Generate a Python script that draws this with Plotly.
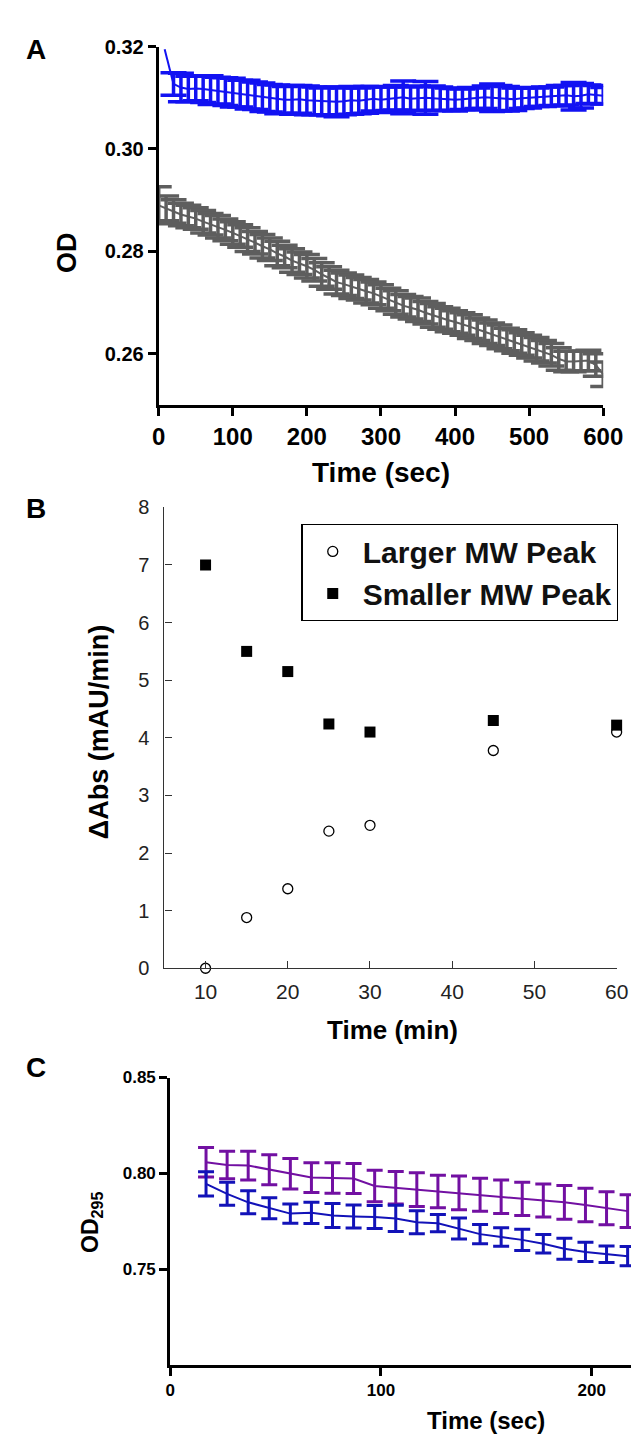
import plotly.graph_objects as go

# ---------------- Panel A data ----------------
a_time_grey = [0, 10, 20, 30, 40, 50, 60, 70, 80, 90, 100, 110, 120, 130, 140, 150, 160, 170, 180, 190,
               200, 210, 220, 230, 240, 250, 260, 270, 280, 290, 300, 310, 320, 330, 340, 350, 360, 370, 380, 390,
               400, 410, 420, 430, 440, 450, 460, 470, 480, 490, 500, 510, 520, 530, 540, 550, 560, 570, 580, 590, 600]
a_grey = [0.2890, 0.2884, 0.2878, 0.2872, 0.2868, 0.2864, 0.2858, 0.2853, 0.2848, 0.2842,
          0.2836, 0.2830, 0.2823, 0.2817, 0.2810, 0.2804, 0.2796, 0.2790, 0.2782, 0.2777,
          0.2771, 0.2764, 0.2755, 0.2748, 0.2740, 0.2736, 0.2731, 0.2727, 0.2722, 0.2718,
          0.2712, 0.2706, 0.2700, 0.2694, 0.2690, 0.2686, 0.2680, 0.2675, 0.2670, 0.2666,
          0.2662, 0.2658, 0.2653, 0.2648, 0.2643, 0.2638, 0.2633, 0.2628, 0.2624, 0.2619,
          0.2614, 0.2609, 0.2604, 0.2598, 0.2590, 0.2585, 0.2585, 0.2586, 0.2587, 0.2578, 0.2560]
a_grey_err = [0.0036, 0.0024, 0.0023, 0.0022, 0.0022, 0.0021, 0.0022, 0.0021, 0.0022, 0.0021,
              0.0022, 0.0022, 0.0023, 0.0022, 0.0023, 0.0022, 0.0024, 0.0022, 0.0023, 0.0022,
              0.0023, 0.0022, 0.0023, 0.0022, 0.0023, 0.0022, 0.0023, 0.0022, 0.0023, 0.0022,
              0.0023, 0.0022, 0.0023, 0.0022, 0.0022, 0.0023, 0.0022, 0.0023, 0.0022, 0.0023,
              0.0022, 0.0022, 0.0023, 0.0022, 0.0023, 0.0022, 0.0023, 0.0022, 0.0023, 0.0022,
              0.0022, 0.0023, 0.0022, 0.0022, 0.0022, 0.0020, 0.0020, 0.0019, 0.0020, 0.0022, 0.0024]

# first blue reading (t=8 s) is the initial spike, drawn without an error bar
a_time_blue = [8, 20, 30, 40, 50, 60, 70, 80, 90, 100, 110, 120, 130, 140, 150, 160, 170, 180, 190, 200,
               210, 220, 230, 240, 250, 260, 270, 280, 290, 300, 310, 320, 330, 340, 350, 360, 370, 380, 390, 400,
               410, 420, 430, 440, 450, 460, 470, 480, 490, 500, 510, 520, 530, 540, 550, 560, 570, 580, 590, 600]
a_blue = [0.3195, 0.3127, 0.3120, 0.3117, 0.3118, 0.3117, 0.3115, 0.3114, 0.3112, 0.3110,
          0.3108, 0.3106, 0.3104, 0.3101, 0.3099, 0.3097, 0.3096, 0.3096, 0.3097, 0.3095,
          0.3094, 0.3093, 0.3093, 0.3092, 0.3093, 0.3095, 0.3094, 0.3096, 0.3098, 0.3096,
          0.3098, 0.3100, 0.3101, 0.3098, 0.3099, 0.3100, 0.3099, 0.3098, 0.3097, 0.3096,
          0.3097, 0.3098, 0.3099, 0.3101, 0.3100, 0.3099, 0.3098, 0.3097, 0.3099, 0.3100,
          0.3101, 0.3102, 0.3103, 0.3104, 0.3105, 0.3103, 0.3104, 0.3107, 0.3106, 0.3104]
a_blue_err = [0.0, 0.0022, 0.0028, 0.0025, 0.0024, 0.0026, 0.0028, 0.0026, 0.0027, 0.0028,
              0.0026, 0.0028, 0.0027, 0.0028, 0.0027, 0.0028, 0.0026, 0.0028, 0.0027, 0.0028,
              0.0027, 0.0026, 0.0028, 0.0029, 0.0026, 0.0027, 0.0025, 0.0026, 0.0024, 0.0025,
              0.0023, 0.0024, 0.0032, 0.0023, 0.0024, 0.0032, 0.0024, 0.0023, 0.0022, 0.0022,
              0.0020, 0.0022, 0.0020, 0.0022, 0.0027, 0.0025, 0.0024, 0.0022, 0.0020, 0.0020,
              0.0018, 0.0019, 0.0018, 0.0020, 0.0019, 0.0027, 0.0024, 0.0018, 0.0018, 0.0016]

a_xticks = [0, 100, 200, 300, 400, 500, 600]
a_yticks = [0.26, 0.28, 0.30, 0.32]

# ---------------- Panel B data ----------------
b_time = [10, 15, 20, 25, 30, 45, 60]
b_larger = [0.0, 0.88, 1.38, 2.38, 2.48, 3.78, 4.10]
b_smaller = [7.0, 5.5, 5.15, 4.24, 4.10, 4.30, 4.22]
b_xticks = [10, 20, 30, 40, 50, 60]
b_yticks = [0, 1, 2, 3, 4, 5, 6, 7, 8]

# ---------------- Panel C data ----------------
c_time = [17, 27, 37, 47, 57, 67, 77, 87, 97, 107, 117, 127, 137, 147, 157, 167, 177, 187, 197, 207, 217]
c_purple = [0.8058, 0.8044, 0.8041, 0.8019, 0.7998, 0.7978, 0.7976, 0.7973, 0.7934, 0.7925,
            0.7915, 0.7905, 0.7898, 0.7888, 0.7878, 0.7867, 0.7858, 0.7849, 0.7835, 0.7818, 0.7803]
c_purple_err = [0.0077, 0.0072, 0.0075, 0.0078, 0.0080, 0.0078, 0.0080, 0.0078, 0.0082, 0.0085,
                0.0088, 0.0085, 0.0088, 0.0086, 0.0088, 0.0087, 0.0086, 0.0088, 0.0087, 0.0086, 0.0085]
c_blue = [0.7945, 0.7893, 0.7849, 0.7818, 0.7790, 0.7794, 0.7780, 0.7775, 0.7772, 0.7765,
          0.7745, 0.7740, 0.7712, 0.7683, 0.7668, 0.7653, 0.7633, 0.7607, 0.7590, 0.7578, 0.7568]
c_blue_err = [0.0063, 0.0060, 0.0060, 0.0055, 0.0050, 0.0055, 0.0063, 0.0060, 0.0060, 0.0068,
              0.0060, 0.0045, 0.0055, 0.0050, 0.0048, 0.0055, 0.0048, 0.0055, 0.0050, 0.0043, 0.0050]
c_xticks = [0, 100, 200]
c_yticks = [0.75, 0.80, 0.85]

# ---------------- layout helpers ----------------
W, H = 643, 1435


def xd(left, right):
    return [left / W, min(right / W, 1.0)]


def yd(top, bottom):
    return [1 - bottom / H, 1 - top / H]


def px(x):
    return x / W


def py(y):
    return 1 - y / H


FONT = "Arial, 'Liberation Sans', sans-serif"
BLUE_A = "#1212F2"
GREY_A = "#5E5E5E"
PURPLE_C = "#7210A2"
BLUE_C = "#1212B8"

fig = go.Figure()

# Panel A
fig.add_trace(go.Scatter(x=a_time_grey, y=a_grey, mode="lines", line=dict(color=GREY_A, width=2),
                         error_y=dict(type="data", array=a_grey_err, color=GREY_A, thickness=3.5, width=13),
                         xaxis="x", yaxis="y", showlegend=False))
# initial spike segment (no error bar on the first reading)
fig.add_trace(go.Scatter(x=a_time_blue[:2], y=a_blue[:2], mode="lines", line=dict(color=BLUE_A, width=2),
                         xaxis="x", yaxis="y", showlegend=False))
fig.add_trace(go.Scatter(x=a_time_blue[1:], y=a_blue[1:], mode="lines", line=dict(color=BLUE_A, width=2),
                         error_y=dict(type="data", array=a_blue_err[1:], color=BLUE_A, thickness=3.5, width=13),
                         xaxis="x", yaxis="y", showlegend=False))

# Panel B
fig.add_trace(go.Scatter(x=b_time, y=b_larger, mode="markers", name="Larger MW Peak",
                         marker=dict(symbol="circle-open", size=10, color="black", line=dict(width=1.3)),
                         xaxis="x2", yaxis="y2", cliponaxis=False))
fig.add_trace(go.Scatter(x=b_time, y=b_smaller, mode="markers", name="Smaller MW Peak",
                         marker=dict(symbol="square", size=11, color="black"),
                         xaxis="x2", yaxis="y2", cliponaxis=False))

# Panel C
fig.add_trace(go.Scatter(x=c_time, y=c_purple, mode="lines", line=dict(color=PURPLE_C, width=2),
                         error_y=dict(type="data", array=c_purple_err, color=PURPLE_C, thickness=3, width=8),
                         xaxis="x3", yaxis="y3", showlegend=False))
fig.add_trace(go.Scatter(x=c_time, y=c_blue, mode="lines", line=dict(color=BLUE_C, width=2),
                         error_y=dict(type="data", array=c_blue_err, color=BLUE_C, thickness=3, width=8),
                         xaxis="x3", yaxis="y3", showlegend=False))

bold_axis = dict(showgrid=False, zeroline=False, showline=True, linecolor="black", linewidth=3,
                 ticks="outside", tickcolor="black", tickwidth=3, ticklen=8)
thin_axis = dict(showgrid=False, zeroline=False, showline=True, linecolor="#333", linewidth=1.3,
                 ticks="inside", tickcolor="#333", tickwidth=1.3, ticklen=7)

fig.update_layout(
    width=W, height=H, margin=dict(l=0, r=0, t=0, b=0),
    paper_bgcolor="white", plot_bgcolor="white",
    font=dict(family=FONT, color="black"),
    xaxis=dict(domain=xd(150, 614), range=[0, 600], tickvals=a_xticks,
               tickfont=dict(size=24, weight="bold"), anchor="y", **bold_axis),
    yaxis=dict(domain=yd(28, 392), range=[0.25, 0.32], tickvals=a_yticks, tickformat=".2f",
               tickfont=dict(size=20, weight="bold"), anchor="x", **bold_axis),
    xaxis2=dict(domain=xd(156, 628), range=[5, 60], tickvals=b_xticks, ticklabelstandoff=4,
                tickfont=dict(size=21, color="#222"), anchor="y2", **thin_axis),
    yaxis2=dict(domain=yd(496, 964), range=[0, 8], tickvals=b_yticks, ticklabelstandoff=10,
                tickfont=dict(size=20, color="#222"), anchor="x2", **thin_axis),
    xaxis3=dict(domain=xd(162, 643), range=[0, 218.6], tickvals=c_xticks,
                tickfont=dict(size=17, weight="bold"), anchor="y3", **bold_axis),
    yaxis3=dict(domain=yd(1075, 1367), range=[0.70, 0.85], tickvals=c_yticks, tickformat=".2f",
                tickfont=dict(size=17, weight="bold"), anchor="x3", **bold_axis),
    legend=dict(x=px(299), y=py(513), xanchor="left", yanchor="top",
                bordercolor="black", borderwidth=1.3, bgcolor="white",
                font=dict(size=30, family=FONT, color="#111", weight="bold"), tracegroupgap=0,
                itemwidth=50),
)

ann = [
    dict(text="A", x=px(22), y=py(31), size=28, bold=True),
    dict(text="B", x=px(22), y=py(497), size=28, bold=True),
    dict(text="C", x=px(22), y=py(1065), size=28, bold=True),
    dict(text="OD", x=px(55), y=py(237), size=27, bold=True, angle=-90),
    dict(text="Time (sec)", x=px(382), y=py(461), size=28, bold=True),
    dict(text="ΔAbs (mAU/min)", x=px(88), y=py(724), size=27, bold=True, angle=-90),
    dict(text="Time (min)", x=px(394), y=py(1027), size=26, bold=True),
    dict(text="OD<sub>295</sub>", x=px(80), y=py(1222), size=23, bold=True, angle=-90),
    dict(text="Time (sec)", x=px(492), y=py(1423), size=24, bold=True),
]
for a in ann:
    fig.add_annotation(text=a["text"], x=a["x"], y=a["y"], xref="paper", yref="paper",
                       xanchor="center", yanchor="middle", showarrow=False,
                       textangle=a.get("angle", 0),
                       font=dict(size=a["size"], family=FONT, color="black",
                                 weight="bold" if a["bold"] else "normal"))

fig.write_html("out.html")
